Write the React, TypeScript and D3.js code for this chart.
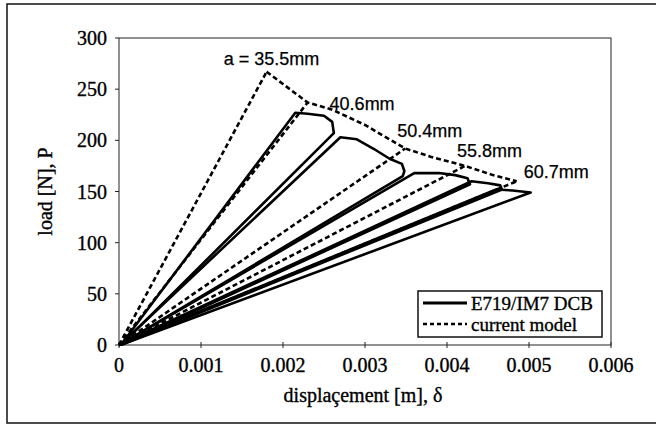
import React from 'react';
import * as d3 from 'd3';

// crack lengths for each test / model point
const crackLabels = ['a = 35.5mm', '40.6mm', '50.4mm', '55.8mm', '60.7mm'];

// model: critical points (displacement m, load N)
const modelDisp = [0.0018, 0.0023, 0.00349, 0.00422, 0.00485];
const modelLoad = [267, 237, 192, 175, 160];

// model envelope curve through the critical points
const envDisp = [0.0018, 0.002, 0.0022, 0.0023, 0.0026, 0.003, 0.00349, 0.0038, 0.00422, 0.00456, 0.00485];
const envLoad = [267, 255, 243, 237, 230, 215, 192, 184, 175, 166, 160];

// experiment E719/IM7 DCB, one load-unload cycle per crack length
const testDisp = [
  [0, 0.00005, 0.00215, 0.0023, 0.0025, 0.0026, 0.00262, 0.00005, 0],
  [0, 0.00005, 0.0027, 0.0029, 0.0031, 0.0033, 0.00345, 0.00348, 0.00346, 0.00005, 0],
  [0, 0.00005, 0.0036, 0.0039, 0.0041, 0.00425, 0.00428, 0.00005, 0],
  [0, 0.00005, 0.0043, 0.0045, 0.00465, 0.00467, 0.00005, 0],
  [0, 0.00005, 0.0046, 0.0048, 0.00502, 0.00005, 0],
];
const testLoad = [
  [0, 3, 227, 226, 224, 218, 207, 2, 0],
  [0, 3, 203, 201, 192, 182, 177, 170, 165, 2, 0],
  [0, 2, 168, 168, 166, 163, 157, 1, 0],
  [0, 2, 160, 158, 156, 152, 1, 0],
  [0, 2, 152, 151, 149, 1, 0],
];

const xTicks = [0, 0.001, 0.002, 0.003, 0.004, 0.005, 0.006];
const yTicks = [0, 50, 100, 150, 200, 250, 300];

const legendItems = ['E719/IM7 DCB', 'current model'];

// label offsets from each model point (px)
const labelDx = [5, 22, -8, -8, 7];
const labelDy = [-7, 8, -12, -9, -3];
const labelAnchor = ['middle', 'start', 'start', 'start', 'start'];

const W = 656;
const H = 425;

const App = () => {
  const x = d3.scaleLinear().domain([0, 0.006]).range([119, 611]);
  const y = d3.scaleLinear().domain([0, 300]).range([345, 38]);

  const line = d3.line<[number, number]>()
    .x((d) => x(d[0]))
    .y((d) => y(d[1]));

  const envelope = envDisp.map((d, i) => [d, envLoad[i]] as [number, number]);
  const tests = testDisp.map((ds, k) => ds.map((d, i) => [d, testLoad[k][i]] as [number, number]));

  const serif = '"Liberation Serif", "Times New Roman", serif';
  const sans = '"Liberation Sans", Arial, sans-serif';
  const dash = '5,3';
  // scanned look: slightly heavier glyphs
  const ink = { fill: '#000', stroke: '#000', strokeWidth: 0.35 };

  return (
    <svg width={W} height={H} style={{ position: 'absolute', left: 0, top: 0, background: '#fff' }}>
      {/* outer frame */}
      <rect x={7} y={4} width={660} height={419} fill="none" stroke="#111" strokeWidth={1.5} />

      {/* plot box */}
      <rect x={x(0)} y={y(300)} width={x(0.006) - x(0)} height={y(0) - y(300)} fill="none" stroke="#222" strokeWidth={1} />

      {/* y axis */}
      {yTicks.map((t) => (
        <g key={'y' + t}>
          <line x1={x(0) - 4} x2={x(0)} y1={y(t)} y2={y(t)} stroke="#222" />
          <text x={107} y={y(t)} dy="0.35em" textAnchor="end" fontFamily={serif} fontSize={20} {...ink}>{t}</text>
        </g>
      ))}

      {/* x axis */}
      {xTicks.map((t) => (
        <g key={'x' + t}>
          <line x1={x(t)} x2={x(t)} y1={y(0) - 3} y2={y(0) + 3} stroke="#222" />
          <text x={x(t)} y={372} textAnchor="middle" fontFamily={serif} fontSize={20} {...ink}>{t}</text>
        </g>
      ))}

      <text x={363} y={402} textAnchor="middle" fontFamily={serif} fontSize={20} {...ink}>displaçement [m], δ</text>
      <text transform={`translate(52,${y(150)}) rotate(-90)`} textAnchor="middle" fontFamily={serif} fontSize={20} {...ink}>load [N], P</text>

      {/* experimental curves */}
      {tests.map((pts, k) => (
        <path key={'t' + k} d={line(pts) || ''} fill="none" stroke="#000" strokeWidth={2.6} strokeLinejoin="round" />
      ))}

      {/* model lines from origin */}
      {modelDisp.map((d, i) => (
        <path key={'m' + i} d={line([[0, 0], [d, modelLoad[i]]]) || ''} fill="none" stroke="#000" strokeWidth={2.6} strokeDasharray={dash} />
      ))}
      <path d={line(envelope) || ''} fill="none" stroke="#000" strokeWidth={2.6} strokeDasharray={dash} />

      {/* crack length labels */}
      {crackLabels.map((lab, i) => (
        <text key={lab} x={x(modelDisp[i]) + labelDx[i]} y={y(modelLoad[i]) + labelDy[i]} textAnchor={labelAnchor[i]}
          fontFamily={sans} fontSize={18} {...ink} strokeWidth={0.25}>{lab}</text>
      ))}

      {/* legend */}
      <g transform="translate(418,291)">
        <rect x={0} y={0} width={184} height={46} fill="#fff" stroke="#111" strokeWidth={1.5} />
        {legendItems.map((lab, i) => (
          <g key={lab} transform={`translate(0,${12 + i * 21})`}>
            <line x1={5} x2={49} y1={0} y2={0} stroke="#000" strokeWidth={i === 0 ? 3 : 2.4} strokeDasharray={i === 0 ? undefined : '4,3'} />
            <text x={53} y={0} dy="0.35em" fontFamily={serif} fontSize={19} {...ink}>{lab}</text>
          </g>
        ))}
      </g>
    </svg>
  );
};

export default App;
